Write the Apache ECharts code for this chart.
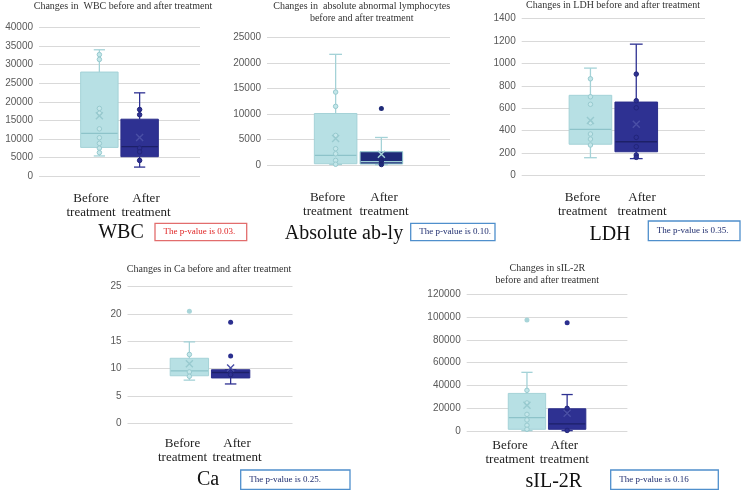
<!DOCTYPE html>
<html>
<head>
<meta charset="utf-8">
<script src="https://cdn.jsdelivr.net/npm/echarts@6/dist/echarts.min.js"></script>
<style>html,body{margin:0;padding:0;background:#fff}#c{width:746px;height:491px}</style>
</head>
<body>
<div id="c"></div>
<script>
// ---------------- data ----------------
const panelNames = ['WBC', 'Absolute ab-ly', 'LDH', 'Ca', 'sIL-2R'];
const panelTitles = [
  'Changes in  WBC before and after treatment',
  'Changes in  absolute abnormal lymphocytes\nbefore and after treatment',
  'Changes in LDH before and after treatment',
  'Changes in Ca before and after treatment',
  'Changes in sIL-2R\nbefore and after treatment'
];
const groupLabels = ['Before\ntreatment', 'After\ntreatment'];
const xSlots = ['pad-left', 'Before treatment', 'After treatment', 'pad-right'];
const pValueTexts = ['The p-value is 0.03.', 'The p-value is 0.10.', 'The p-value is 0.35.', 'The p-value is 0.25.', 'The p-value is 0.16'];
const yMax = [40000, 25000, 1400, 25, 120000];
const yInterval = [5000, 5000, 200, 5, 20000];

// box: [min, Q1, median, Q3, max] for [before, after]
const wbcBox = [[5400, 7700, 11500, 28000, 34000], [2400, 5200, 7900, 15300, 22400]];
const wbcMean = [16200, 10400];
const wbcPoints = [[32700, 31400, 18200, 16900, 12700, 10300, 8800, 7500, 6300], [17900, 16500, 7500, 6500, 4200]];
const wbcOutliers = [[], []];

const ablyBox = [[100, 250, 1900, 10100, 21700], [50, 200, 650, 2600, 5400]];
const ablyMean = [5200, 2100];
const ablyPoints = [[14300, 11500, 5800, 3200, 2200, 900, 150], [800, 100]];
const ablyOutliers = [[], [11100]];

const ldhBox = [[160, 280, 412, 715, 957], [152, 213, 302, 655, 1170]];
const ldhMean = [490, 457];
const ldhPoints = [[862, 702, 635, 470, 371, 326, 273], [904, 667, 604, 341, 258, 184, 163]];
const ldhOutliers = [[], []];

const caBox = [[7.9, 8.7, 9.6, 11.9, 14.9], [7.2, 8.3, 9.3, 9.8, 9.8]];
const caMean = [10.9, 10.1];
const caPoints = [[12.6, 9.4, 8.6], [9.4, 8.9]];
const caOutliers = [[20.5], [18.5, 12.3]];

const sil2rBox = [[300, 1500, 11800, 33000, 51500], [300, 1500, 6200, 19500, 32000]];
const sil2rMean = [22500, 15500];
const sil2rPoints = [[35700, 24600, 14600, 9700, 5000, 1500], [19900, 16700, 500]];
const sil2rOutliers = [[97500], [95000]];

const panelData = [
  {box: wbcBox, mean: wbcMean, points: wbcPoints, outliers: wbcOutliers},
  {box: ablyBox, mean: ablyMean, points: ablyPoints, outliers: ablyOutliers},
  {box: ldhBox, mean: ldhMean, points: ldhPoints, outliers: ldhOutliers},
  {box: caBox, mean: caMean, points: caPoints, outliers: caOutliers},
  {box: sil2rBox, mean: sil2rMean, points: sil2rPoints, outliers: sil2rOutliers}
];

// ---------------- layout & styles ----------------
const layout = [
  {grid: [39, 27.5, 161, 148.5], title: [123, 6], labX: [91, 146], labY: 205.3, name: [121, 233], pbox: [155, 223.3, 91.7, 17.4], red: true},
  {grid: [267, 37.5, 183, 127.5], title: [361.7, 12.5], labX: [327.6, 384], labY: 204.7, name: [344, 233.3], pbox: [410.7, 223.3, 84.3, 17.4]},
  {grid: [521.7, 18.3, 183.3, 157.4], title: [613, 5], labX: [582.5, 642], labY: 204.8, name: [610, 235], pbox: [648.3, 221, 91.7, 19.7]},
  {grid: [127.5, 286.7, 165, 136.6], title: [209, 269], labX: [182.5, 237], labY: 450.5, name: [208, 480], pbox: [240.7, 470, 109.3, 19.3]},
  {grid: [466.7, 294.3, 160.7, 136.7], title: [547.3, 274.2], labX: [510, 564.3], labY: 453, name: [553.8, 481.7], pbox: [610.7, 470, 107.6, 19.3]}
];

const beforeStyle = {fill: '#b7e0e4', border: '#a4d2d7', whisker: '#a4d2d7', median: '#8dc3c9', point: '#98cacf', pointFill: '#c4e7ea', outlier: '#a8d5d9', mean: '#98cacf'};
const afterStyle = {fill: '#2e3192', border: '#2a2d8a', whisker: '#2e3192', median: '#1d2068', point: '#22257a', pointFill: '#2e3192', outlier: '#2b2f8f', mean: '#4a4fa6'};
const afterStyleAbly = {fill: '#1f2a78', border: '#8fc6cc', whisker: '#a4d2d7', median: '#9fd0d5', point: '#1c2470', pointFill: '#1f2a78', outlier: '#1f2a78', mean: '#a4d2d7'};
const groupStyles = [
  [beforeStyle, afterStyle],
  [beforeStyle, afterStyleAbly],
  [beforeStyle, afterStyle],
  [beforeStyle, afterStyle],
  [beforeStyle, afterStyle]
];

const serif = "'Liberation Serif', 'Times New Roman', serif";

function boxRenderer(styles) {
  return function (params, api) {
    const xi = api.value(0);
    const p = [1, 2, 3, 4, 5].map(function (d) { return api.coord([xi, api.value(d)]); });
    const cx = p[0][0];
    const bw = api.size([1, 0])[0] * 0.93;
    const cap = bw * 0.3;
    const st = styles[params.dataIndex];
    const wl = {stroke: st.whisker, lineWidth: 1.3};
    return {
      type: 'group',
      children: [
        {type: 'line', shape: {x1: cx, y1: p[3][1], x2: cx, y2: p[4][1]}, style: wl},
        {type: 'line', shape: {x1: cx - cap / 2, y1: p[4][1], x2: cx + cap / 2, y2: p[4][1]}, style: wl},
        {type: 'line', shape: {x1: cx, y1: p[1][1], x2: cx, y2: p[0][1]}, style: wl},
        {type: 'line', shape: {x1: cx - cap / 2, y1: p[0][1], x2: cx + cap / 2, y2: p[0][1]}, style: wl},
        {type: 'rect', shape: {x: cx - bw / 2, y: p[3][1], width: bw, height: p[1][1] - p[3][1]}, style: {fill: st.fill, stroke: st.border, lineWidth: 1}},
        {type: 'line', shape: {x1: cx - bw / 2 + 0.5, y1: p[2][1], x2: cx + bw / 2 - 0.5, y2: p[2][1]}, style: {stroke: st.median, lineWidth: 1.3}}
      ]
    };
  };
}

const grids = [], xAxes = [], yAxes = [], series = [], graphics = [];
const groupX = [xSlots.indexOf('Before treatment'), xSlots.indexOf('After treatment')];

panelData.forEach(function (pd, i) {
  const L = layout[i];
  const styles = groupStyles[i];
  grids.push({left: L.grid[0], top: L.grid[1], width: L.grid[2], height: L.grid[3], containLabel: false, outerBoundsMode: 'none'});
  xAxes.push({gridIndex: i, type: 'category', data: xSlots, show: false, boundaryGap: true});
  yAxes.push({
    gridIndex: i, type: 'value', min: 0, max: yMax[i], interval: yInterval[i],
    axisLine: {show: false}, axisTick: {show: false},
    splitLine: {show: true, lineStyle: {color: '#d9d9d9', width: 1}},
    axisLabel: {color: '#595959', fontSize: 10, fontFamily: "'Liberation Sans', Arial, sans-serif", margin: 6,
      formatter: function (v) { return String(v); }}
  });
  series.push({
    type: 'custom', xAxisIndex: i, yAxisIndex: i, z: 2,
    renderItem: boxRenderer(styles),
    encode: {x: 0, y: [1, 2, 3, 4, 5]},
    data: pd.box.map(function (b, g) { return [groupX[g]].concat(b); })
  });
  [0, 1].forEach(function (g) {
    const st = styles[g];
    series.push({
      type: 'scatter', xAxisIndex: i, yAxisIndex: i, z: 3, symbol: 'circle', symbolSize: 4.5,
      itemStyle: {color: st.pointFill, borderColor: st.point, borderWidth: 1, opacity: 1},
      data: pd.points[g].map(function (v) { return [groupX[g], v]; })
    });
    series.push({
      type: 'scatter', xAxisIndex: i, yAxisIndex: i, z: 3, symbol: 'circle', symbolSize: 5,
      itemStyle: {color: st.outlier, borderWidth: 0, opacity: 1},
      data: pd.outliers[g].map(function (v) { return [groupX[g], v]; })
    });
    series.push({
      type: 'scatter', xAxisIndex: i, yAxisIndex: i, z: 4,
      symbol: 'path://M0,0L10,10M10,0L0,10', symbolSize: 7,
      itemStyle: {color: 'rgba(0,0,0,0)', borderColor: st.mean, borderWidth: 1.4, opacity: 1},
      data: [[groupX[g], pd.mean[g]]]
    });
  });

  // texts
  graphics.push({type: 'text', x: L.title[0], y: L.title[1], silent: true,
    style: {text: panelTitles[i], font: '10px ' + serif, fill: '#333', textAlign: 'center', align: 'center', textVerticalAlign: 'middle', verticalAlign: 'middle', lineHeight: 11.6}});
  [0, 1].forEach(function (g) {
    graphics.push({type: 'text', x: L.labX[g], y: L.labY, silent: true,
      style: {text: groupLabels[g], font: '13px ' + serif, fill: '#222', textAlign: 'center', align: 'center', textVerticalAlign: 'middle', verticalAlign: 'middle', lineHeight: 14}});
  });
  graphics.push({type: 'text', x: L.name[0], y: L.name[1], silent: true,
    style: {text: panelNames[i], font: '20px ' + serif, fill: '#111', textAlign: 'center', align: 'center', textVerticalAlign: 'middle', verticalAlign: 'middle'}});
  graphics.push({type: 'rect', silent: true, shape: {x: L.pbox[0], y: L.pbox[1], width: L.pbox[2], height: L.pbox[3]},
    style: {fill: '#fff', stroke: L.red ? '#e26d6d' : '#4f8fcc', lineWidth: 1.3}});
  graphics.push({type: 'text', x: L.pbox[0] + 8.5, y: L.pbox[1] + L.pbox[3] / 2, silent: true,
    style: {text: pValueTexts[i], font: '9px ' + serif, fill: L.red ? '#e02525' : '#1f2d6e', textAlign: 'left', align: 'left', textVerticalAlign: 'middle', verticalAlign: 'middle'}});
});

const chart = echarts.init(document.getElementById('c'), null, {renderer: 'canvas', width: 746, height: 491});
chart.setOption({
  animation: false,
  backgroundColor: '#ffffff',
  grid: grids,
  xAxis: xAxes,
  yAxis: yAxes,
  series: series,
  graphic: {elements: graphics}
});
</script>
</body>
</html>
